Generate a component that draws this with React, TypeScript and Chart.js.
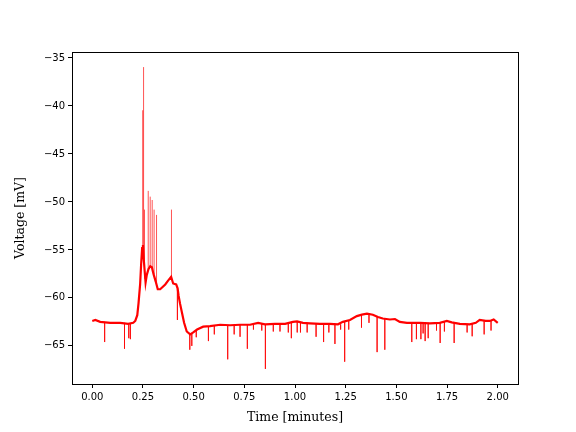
import { useEffect, useRef } from 'react';
import { Chart, registerables } from 'chart.js';

Chart.register(...registerables);

// Slow membrane trace (time in minutes, voltage in mV)
const baseTime = [
  0.000, 0.015, 0.039, 0.089, 0.138, 0.177, 0.202, 0.212, 0.222, 0.228,
  0.236, 0.241, 0.246, 0.250, 0.254, 0.263, 0.269, 0.277, 0.286, 0.294,
  0.302, 0.313, 0.323, 0.335, 0.360, 0.374, 0.389, 0.399, 0.414, 0.421,
  0.426, 0.433, 0.443, 0.453, 0.466, 0.483, 0.498, 0.517, 0.547, 0.581,
  0.631, 0.680, 0.729, 0.778, 0.818, 0.852, 0.901, 0.951, 0.990, 1.010,
  1.039, 1.074, 1.123, 1.172, 1.212, 1.236, 1.271, 1.305, 1.330, 1.355,
  1.384, 1.409, 1.433, 1.468, 1.493, 1.517, 1.552, 1.616, 1.665, 1.714,
  1.749, 1.773, 1.813, 1.862, 1.892, 1.911, 1.941, 1.961, 1.980, 2.000,
];
const baseVolt = [
  -62.4, -62.3, -62.5, -62.6, -62.6, -62.7, -62.6, -62.4, -61.8, -60.6,
  -58.6, -56.5, -54.8, -54.5, -56.0, -58.4, -57.6, -57.0, -56.7, -56.8,
  -57.5, -58.3, -59.1, -59.1, -58.6, -58.2, -57.8, -58.5, -58.6, -59.0,
  -59.8, -60.6, -61.6, -62.6, -63.5, -63.8, -63.6, -63.3, -63.0, -62.95,
  -62.8, -62.85, -62.8, -62.8, -62.6, -62.75, -62.7, -62.7, -62.5, -62.45,
  -62.6, -62.65, -62.7, -62.7, -62.75, -62.5, -62.3, -61.9, -61.75, -61.65,
  -61.75, -62.0, -62.15, -62.25, -62.2, -62.5, -62.6, -62.6, -62.65, -62.6,
  -62.4, -62.55, -62.7, -62.75, -62.6, -62.3, -62.4, -62.4, -62.25, -62.6,
];

// Fast deflections: time, tip voltage, voltage at foot
const spikeTime = [
  0.2488, 0.2530, 0.2576, 0.2760, 0.2857, 0.2956, 0.3050, 0.3170, 0.3907,
  0.061, 0.159, 0.180, 0.188, 0.420, 0.481, 0.491, 0.513, 0.573, 0.602,
  0.668, 0.700, 0.729, 0.765, 0.795, 0.836, 0.854, 0.893, 0.926, 0.967,
  0.982, 1.011, 1.027, 1.060, 1.104, 1.141, 1.167, 1.197, 1.225, 1.245,
  1.265, 1.328, 1.365, 1.405, 1.443, 1.576, 1.599, 1.621, 1.632, 1.642,
  1.657, 1.698, 1.716, 1.737, 1.785, 1.849, 1.874, 1.933, 1.967,
];
const spikePeak = [
  -40.45, -35.95, -50.8, -48.85, -49.45, -49.8, -50.8, -51.35, -50.8,
  -64.6, -65.3, -64.2, -64.3, -62.3, -65.4, -65.0, -64.1, -64.5, -63.8,
  -66.4, -63.8, -64.05, -65.3, -63.3, -63.4, -67.4, -63.5, -63.5, -63.6,
  -64.2, -63.6, -63.6, -63.6, -64.05, -64.6, -63.6, -64.8, -63.3, -66.65,
  -63.3, -63.1, -62.6, -65.65, -65.4, -64.6, -64.3, -64.3, -63.7, -64.5,
  -64.2, -63.4, -64.7, -63.5, -64.7, -63.6, -64.0, -63.8, -63.4,
];
const spikeBase = [
  -55.0, -54.5, -58.0, -57.0, -56.7, -56.8, -57.5, -58.8, -57.8,
  -62.5, -62.6, -62.7, -62.7, -59.0, -63.8, -63.7, -63.4, -62.95, -62.9,
  -62.85, -62.8, -62.8, -62.8, -62.8, -62.65, -62.75, -62.7, -62.7, -62.6,
  -62.5, -62.45, -62.55, -62.6, -62.7, -62.7, -62.7, -62.7, -62.75, -62.5,
  -62.35, -61.75, -61.65, -62.0, -62.2, -62.6, -62.6, -62.6, -62.6, -62.6,
  -62.6, -62.6, -62.6, -62.45, -62.6, -62.7, -62.7, -62.4, -62.4,
];

const xTickValues = [0, 0.25, 0.5, 0.75, 1.0, 1.25, 1.5, 1.75, 2.0];
const yTickValues = [-65, -60, -55, -50, -45, -40, -35];

const xLabel = 'Time [minutes]';
const yLabel = 'Voltage [mV]';

export default function App() {
  const ref = useRef<HTMLCanvasElement>(null);

  useEffect(() => {
    if (!ref.current) return;
    const baseData = baseTime.map((t, i) => ({ x: t, y: baseVolt[i] }));
    const spikeData: { x: number; y: number | null }[] = [];
    spikeTime.forEach((t, i) => {
      spikeData.push({ x: t, y: spikeBase[i] }, { x: t, y: spikePeak[i] }, { x: t, y: null });
    });

    const allV = [...baseVolt, ...spikePeak];
    const vMin = Math.min(...allV);
    const vMax = Math.max(...allV);
    const vPad = (vMax - vMin) * 0.05;
    const tMin = Math.min(...baseTime);
    const tMax = Math.max(...baseTime);
    const tPad = (tMax - tMin) * 0.05;

    const boxPlugin = {
      id: 'box',
      afterDraw(chart: any) {
        const { ctx, chartArea } = chart;
        ctx.save();
        ctx.strokeStyle = '#000';
        ctx.lineWidth = 1;
        ctx.strokeRect(
          Math.round(chartArea.left) + 0.5,
          Math.round(chartArea.top) + 0.5,
          Math.round(chartArea.right - chartArea.left),
          Math.round(chartArea.bottom - chartArea.top)
        );
        ctx.restore();
      },
    };

    const tickFont = { family: 'DejaVu Sans', size: 10 };
    const titleFont = { family: 'DejaVu Serif', size: 12.5 };

    const chart = new Chart(ref.current, {
      type: 'line',
      data: {
        datasets: [
          {
            data: spikeData as any,
            borderColor: 'rgba(255,0,0,0.85)',
            borderWidth: 0.8,
            pointRadius: 0,
            spanGaps: false,
            tension: 0,
          },
          {
            data: baseData,
            borderColor: '#ff0000',
            borderWidth: 2.2,
            pointRadius: 0,
            tension: 0,
          },
        ],
      },
      options: {
        animation: false,
        responsive: false,
        layout: { padding: { left: 0, right: 58, top: 52, bottom: 0 } },
        plugins: { legend: { display: false }, tooltip: { enabled: false } },
        scales: {
          x: {
            type: 'linear',
            min: tMin - tPad,
            max: tMax + tPad,
            afterBuildTicks: (scale: any) => {
              scale.ticks = xTickValues.map((v) => ({ value: v }));
            },
            afterFit: (scale: any) => {
              scale.height = 48;
            },
            ticks: {
              color: '#000',
              font: tickFont,
              padding: 3,
              maxRotation: 0,
              autoSkip: false,
              callback: (v: any) => Number(v).toFixed(2),
            },
            grid: {
              display: true,
              drawOnChartArea: false,
              drawTicks: true,
              tickLength: 4,
              tickColor: '#000',
              color: '#000',
            },
            border: { display: true, color: '#000' },
            title: {
              display: true,
              text: xLabel,
              color: '#000',
              font: titleFont,
              padding: { top: 0, bottom: 6.5 },
            },
          },
          y: {
            type: 'linear',
            min: vMin - vPad,
            max: vMax + vPad,
            afterBuildTicks: (scale: any) => {
              scale.ticks = yTickValues.map((v) => ({ value: v }));
            },
            afterFit: (scale: any) => {
              scale.width = 72;
            },
            ticks: {
              color: '#000',
              font: tickFont,
              padding: 3,
              autoSkip: false,
              callback: (v: any) => {
                const n = Number(v);
                return n < 0 ? '\u2212' + Math.abs(n) : String(n);
              },
            },
            grid: {
              display: true,
              drawOnChartArea: false,
              drawTicks: true,
              tickLength: 4,
              tickColor: '#000',
              color: '#000',
            },
            border: { display: true, color: '#000' },
            title: {
              display: true,
              text: yLabel,
              color: '#000',
              font: titleFont,
              padding: { top: 13.5, bottom: 0 },
            },
          },
        },
      },
      plugins: [boxPlugin],
    });

    return () => chart.destroy();
  }, []);

  return (
    <div style={{ position: 'absolute', left: 0, top: 0, width: 576, height: 432 }}>
      <canvas ref={ref} width={576} height={432} style={{ display: 'block' }} />
    </div>
  );
}
